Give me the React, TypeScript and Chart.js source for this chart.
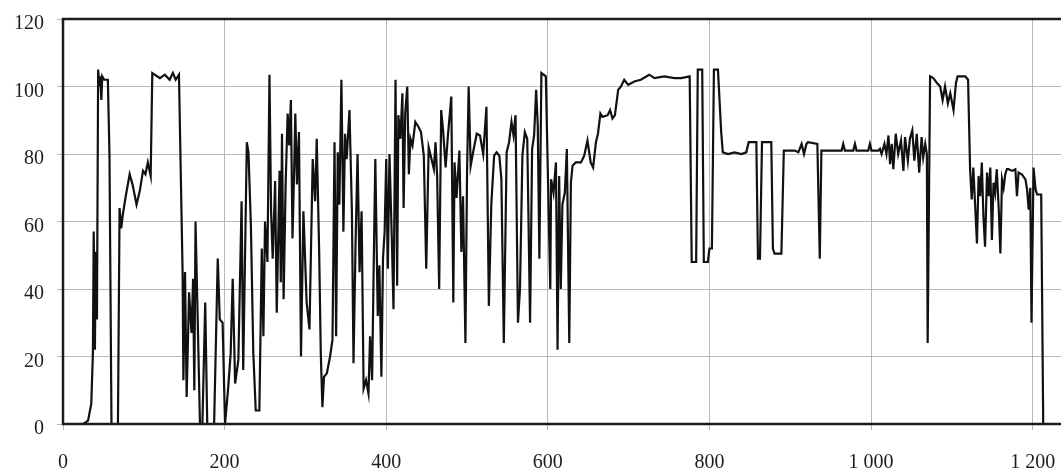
import { useEffect, useRef } from "react";
import { Chart, registerables } from "chart.js";
Chart.register(...registerables);

// time (s) and speed values
const timeValues = [
  0, 25, 31, 35, 37, 38, 39.5, 40.5, 42, 43.5, 45, 46, 47.5, 48.5, 51, 55.5, 57.5, 60, 68, 70,
  72, 74, 78, 82.5, 86, 91, 95, 99, 102, 105, 108.5, 110.5, 120, 126, 132, 136, 139.5, 143.5, 148, 149,
  151, 153, 156, 159, 161, 162.5, 164, 166.5, 169.5, 172.5, 176, 178.5, 187, 191.5, 194, 197.5, 200.5, 204.5, 207.5, 210,
  213, 217, 221, 223, 227.5, 229.5, 232.5, 235.5, 238.5, 243, 246, 248, 250, 253, 255.5, 257.5, 259.5, 262.5, 264.5, 268,
  269.5, 271, 273, 275.5, 278, 280, 282, 284, 286, 287.5, 289.5, 292, 294.5, 297.5, 301.5, 305, 309, 312, 314, 317,
  319, 321, 323, 326.5, 330.5, 333.5, 336, 338, 340, 342, 344.5, 347, 349, 351, 354.5, 357.5, 359.5, 362, 364.5, 367,
  369.5, 372, 375, 378, 380, 382.5, 384.5, 386.5, 389.5, 391.5, 394, 396, 398, 400, 402, 404, 407, 409, 411.5, 413.5,
  415, 417.5, 420, 421.5, 423.5, 426, 428, 430, 432.5, 436, 440, 443, 446.5, 449.5, 452.5, 455.5, 459, 461, 463, 465.5,
  468, 470.5, 473.5, 476, 480.5, 483, 484.5, 487, 490.5, 493, 495, 498, 500, 502, 504.5, 507.5, 512, 516, 520, 524,
  527, 530, 533.5, 536.5, 540, 542.5, 545.5, 549, 552, 555, 557.5, 560, 563, 565.5, 568.5, 571.5, 574.5, 578, 580.5, 583,
  585.5, 587.5, 589.5, 592, 597.5, 599.5, 603, 604, 607, 610, 612, 614, 616, 618, 621, 623.5, 626.5, 628.5, 630.5, 634.5,
  641, 645, 649, 653, 656, 659.5, 662, 665, 667.5, 674, 677, 680, 683, 687, 690.5, 694.5, 699.5, 707, 715, 725.5, 732,
  744, 756.5, 765, 775.5, 778, 783.5, 785.5, 791, 793, 798, 800, 803, 805.5, 810.5, 814.5, 816.5, 823, 831, 839.5, 845.5,
  848.5, 858, 860, 862.5, 865, 876.5, 878.5, 880.5, 889, 892, 905.5, 910, 914, 917, 920, 922, 933.5, 936.5, 938.5, 963.5,
  965.5, 967.5, 978, 980, 982, 996.5, 998.5, 1000.5, 1009, 1011, 1013, 1016.5, 1019, 1021.5, 1023.5, 1025.5, 1027.5, 1030.5, 1033.5, 1037,
  1040, 1042, 1045.5, 1048, 1051, 1053.5, 1056.5, 1059.5, 1062.5, 1064.5, 1067, 1069, 1070, 1073, 1077, 1081.5, 1085.5, 1088.5, 1091.5, 1095,
  1098, 1102, 1105, 1107, 1116.5, 1120, 1122.5, 1124.5, 1126.5, 1129, 1131, 1133, 1135, 1137, 1139, 1141, 1143.5, 1145.5, 1147.5, 1149.5,
  1151.5, 1153.5, 1155.5, 1158, 1160, 1162, 1164, 1166, 1168, 1170, 1174.5, 1178.5, 1180.5, 1182.5, 1186.5, 1191, 1193, 1195, 1197, 1198.5,
  1201, 1203.5, 1205.5, 1210.5, 1213, 1238,
];
const speedValues = [
  0, 0, 1, 6, 21, 57, 22, 51, 31, 105, 100, 103, 96, 103, 102, 102, 80, 0, 0, 64,
  58, 62, 68, 74, 71, 65, 69, 75, 74, 77.5, 73.5, 104, 102.5, 103.5, 102, 104, 102, 103.5, 45, 13,
  45, 8, 39, 27, 43, 10, 60, 33, 0, 0, 36, 0, 0, 49, 31, 30, 0, 11, 21, 43,
  12, 19, 66, 16, 83.5, 80.5, 59, 21, 4, 4, 52, 26, 60, 48, 103.5, 63, 49, 72, 33, 75,
  42, 86, 37, 71, 92, 82.5, 96, 55, 75, 92, 71, 86.5, 20, 63, 36, 28, 78.5, 66, 84.5, 51,
  21, 5, 14, 15, 20, 25, 83.5, 26, 80.5, 65, 102, 57, 86, 78.5, 93, 63, 18, 53, 80, 45,
  63, 10.5, 13, 9, 26, 13, 47, 78.5, 32, 47, 14, 49, 57, 78.5, 46, 80, 54, 34, 102, 41,
  91.5, 84.5, 98, 64, 92, 100, 74, 84.5, 82.5, 89.5, 88, 86.5, 79.5, 46, 82, 79, 75.5, 83.5, 73.5, 40,
  93, 86.5, 76, 84.5, 97, 36, 77.5, 67, 81, 51, 67.5, 24, 74.5, 100, 76.5, 80.5, 86, 85.5, 80, 94,
  35, 65, 79.5, 80.5, 79.5, 72.5, 24, 80.5, 83.5, 89.5, 85.5, 91.5, 30, 40, 79.5, 86.5, 84.5, 30, 81.5, 85.5,
  99, 88.5, 49, 104, 103, 80, 40, 72.5, 68.5, 77.5, 22, 73.5, 40, 65, 68.5, 81.5, 24, 71.5, 76.5, 77.5,
  77.5, 79.5, 84, 77.5, 76, 83.5, 86, 92, 91, 91.5, 93, 90.5, 91.5, 99, 100, 102, 100.5, 101.5, 102, 103.5, 102.5,
  103, 102.5, 102.5, 103, 48, 48, 105, 105, 48, 48, 52, 52, 105, 105, 86.5, 80.5, 80, 80.5, 80, 80.5,
  83.5, 83.5, 49, 49, 83.5, 83.5, 52, 50.5, 50.5, 81, 81, 80.5, 83, 80, 83, 83.5, 83, 49, 81, 81,
  83, 81, 81, 83, 81, 81, 83, 81, 81, 81.5, 80, 83, 80, 85.5, 77, 83, 75.5, 86, 80, 84,
  75, 85, 78, 84.5, 87, 78, 86, 74.5, 85, 79, 83, 80, 24, 103, 102.5, 101, 100, 96, 100, 95,
  98, 93, 101, 103, 103, 102, 75.5, 66.5, 76, 63.5, 53.5, 73.5, 67.5, 77.5, 61.5, 52.5, 74.5, 67.5, 76, 54.5,
  71.5, 68.5, 75.5, 63.5, 50.5, 72.5, 70, 74, 75.5, 75.5, 75, 75.5, 67.5, 74.5, 74, 72.5, 69.5, 63.5, 70, 30,
  76, 69.5, 68, 68, 0, 0,
];

const xTickValues = [0, 200, 400, 600, 800, 1000, 1200];
const yTickValues = [0, 20, 40, 60, 80, 100, 120];
const xMin = 0;
const xMax = 1235;
const yMin = 0;
const yMax = 120;

function formatThousands(v: number): string {
  return String(v).replace(/\B(?=(\d{3})+(?!\d))/g, " ");
}

export default function App() {
  const ref = useRef<HTMLCanvasElement>(null);

  useEffect(() => {
    if (!ref.current) return;
    const framePlugin = {
      id: "frame",
      afterDatasetsDraw(chart: any) {
        const { ctx, chartArea: a } = chart;
        ctx.save();
        ctx.strokeStyle = "#1c1c1c";
        ctx.lineWidth = 2.5;
        ctx.beginPath();
        ctx.moveTo(a.right + 3, a.top);
        ctx.lineTo(a.left, a.top);
        ctx.lineTo(a.left, a.bottom);
        ctx.lineTo(a.right + 3, a.bottom);
        ctx.stroke();
        ctx.restore();
      },
    };
    const font = { family: '"Liberation Serif", "Times New Roman", serif', size: 20 };
    const chart = new Chart(ref.current, {
      type: "line",
      data: {
        datasets: [
          {
            data: timeValues.map((x, i) => ({ x, y: speedValues[i] })),
            borderColor: "#111111",
            borderWidth: 2.2,
            pointRadius: 0,
            tension: 0,
            fill: false,
          },
        ],
      },
      options: {
        animation: false,
        responsive: false,
        maintainAspectRatio: false,
        layout: { padding: { top: 19, left: 0, right: 0, bottom: 0 } },
        plugins: { legend: { display: false }, tooltip: { enabled: false } },
        scales: {
          x: {
            type: "linear",
            min: xMin,
            max: xMax,
            afterBuildTicks: (s: any) => {
              s.ticks = xTickValues.map((v) => ({ value: v }));
            },
            afterFit: (s: any) => {
              s.height = 49;
              s.paddingLeft = 0;
              s.paddingRight = 0;
            },
            grid: { color: "#b8b8b8", lineWidth: 1, tickLength: 6 },
            border: { display: false },
            ticks: {
              callback: (v: any) => formatThousands(Number(v)),
              font,
              color: "#1e1e1e",
              padding: 21,
              maxRotation: 0,
              autoSkip: false,
            },
          },
          y: {
            type: "linear",
            min: yMin,
            max: yMax,
            afterBuildTicks: (s: any) => {
              s.ticks = yTickValues.map((v) => ({ value: v }));
            },
            afterFit: (s: any) => {
              s.width = 63;
              s.paddingTop = 0;
              s.paddingBottom = 0;
            },
            grid: { color: "#b8b8b8", lineWidth: 1, tickLength: 6 },
            border: { display: false },
            ticks: {
              font,
              color: "#1e1e1e",
              padding: 13,
              labelOffset: 5,
            },
          },
        },
      },
      plugins: [framePlugin],
    });
    return () => chart.destroy();
  }, []);

  return (
    <div style={{ position: "fixed", left: 0, top: 0, width: 1061, height: 473, background: "#fff" }}>
      <canvas ref={ref} width={1061} height={473} style={{ display: "block" }} />
    </div>
  );
}
